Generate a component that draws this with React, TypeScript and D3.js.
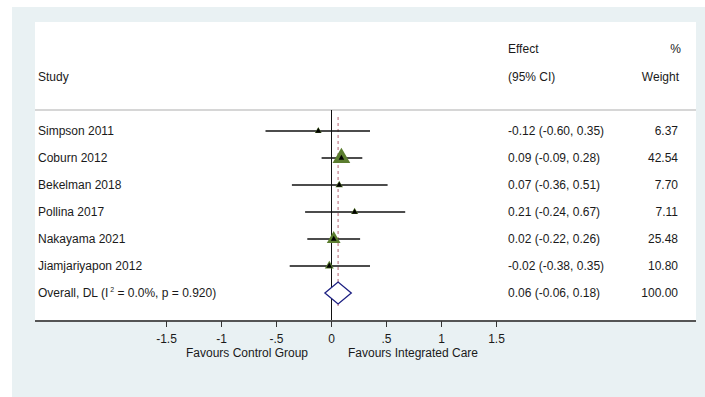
import React, { useEffect, useRef } from "react";
import * as d3 from "d3";

// study level data
const studies = ["Simpson 2011", "Coburn 2012", "Bekelman 2018", "Pollina 2017", "Nakayama 2021", "Jiamjariyapon 2012"];
const effects = [-0.12, 0.09, 0.07, 0.21, 0.02, -0.02];
const lowers = [-0.6, -0.09, -0.36, -0.24, -0.22, -0.38];
const uppers = [0.35, 0.28, 0.51, 0.67, 0.26, 0.35];
const weights = [6.37, 42.54, 7.7, 7.11, 25.48, 10.8];

// pooled estimate
const overall = { effect: 0.06, lower: -0.06, upper: 0.18, weight: 100.0 };

const xTicks = [-1.5, -1, -0.5, 0, 0.5, 1, 1.5];
// stata style labels: "-.5", ".5", plain hyphen
const tickLabel = (v: number) => (v === 0 ? "0" : String(v).replace("0.", "."));

const W = 705;
const H = 397;
const FONT = "'Liberation Sans', Arial, Helvetica, sans-serif";

export default function App() {
  const ref = useRef<SVGSVGElement>(null);

  useEffect(() => {
    const svg = d3.select(ref.current);
    svg.selectAll("*").remove();

    const x = d3.scaleLinear().domain([-1.5, 1.5]).range([166.5, 496.5]);
    const y = d3.scaleLinear().domain([0, studies.length]).range([131, 293]);
    const axisY = 321;

    // backgrounds
    svg.append("rect").attr("x", 12).attr("y", 7).attr("width", W - 12).attr("height", H - 7).attr("fill", "#e9f1f3");
    svg.append("rect").attr("x", 35).attr("y", 22).attr("width", 661).attr("height", axisY - 22).attr("fill", "#fff");

    const txt = (g: any, tx: number, ty: number, s: string, anchor = "start") =>
      g.append("text")
        .attr("x", tx)
        .attr("y", ty)
        .attr("dy", "0.35em")
        .attr("text-anchor", anchor)
        .attr("font-size", 12)
        .attr("fill", "#1a1a1a")
        .text(s);

    const g = svg.append("g").attr("font-family", FONT);

    // headers
    txt(g, 38, 77, "Study");
    txt(g, 508, 49, "Effect");
    txt(g, 508, 77, "(95% CI)");
    txt(g, 681, 49, "%", "end");
    txt(g, 679, 77, "Weight", "end");

    g.append("line")
      .attr("x1", 35).attr("x2", 696)
      .attr("y1", 110).attr("y2", 110)
      .attr("stroke", "#c9c9c9").attr("stroke-width", 1.5);

    // null line
    g.append("line")
      .attr("x1", x(0)).attr("x2", x(0))
      .attr("y1", 110).attr("y2", axisY)
      .attr("stroke", "#111").attr("stroke-width", 1);

    // overall effect dashed line
    g.append("line")
      .attr("x1", x(overall.effect)).attr("x2", x(overall.effect))
      .attr("y1", 117).attr("y2", 306)
      .attr("stroke", "#c07f8a").attr("stroke-width", 1.2)
      .attr("stroke-dasharray", "3,3");

    const fmt = (v: number) => v.toFixed(2);

    studies.forEach((s, i) => {
      const cy = y(i);
      txt(g, 38, cy, s);
      txt(g, 508, cy, `${fmt(effects[i])} (${fmt(lowers[i])}, ${fmt(uppers[i])})`);
      txt(g, 678, cy, fmt(weights[i]), "end");

      g.append("line")
        .attr("x1", x(lowers[i])).attr("x2", x(uppers[i]))
        .attr("y1", cy).attr("y2", cy)
        .attr("stroke", "#111").attr("stroke-width", 1.5);

      // weight marker: triangle, area ~ weight
      g.append("path")
        .attr("d", d3.symbol().type(d3.symbolTriangle).size(weights[i] * 3.2)())
        .attr("transform", `translate(${x(effects[i])},${cy})`)
        .attr("fill", "#5b7d2f");

      g.append("path")
        .attr("d", d3.symbol().type(d3.symbolTriangle).size(14)())
        .attr("transform", `translate(${x(effects[i])},${cy})`)
        .attr("fill", "#000");
    });

    // overall row
    const oy = y(studies.length);
    const ot = g.append("text")
      .attr("x", 38).attr("y", oy).attr("dy", "0.35em")
      .attr("font-size", 12).attr("fill", "#1a1a1a");
    ot.append("tspan").text("Overall, DL (I");
    ot.append("tspan").attr("font-size", 7).attr("dy", -5).text(" 2");
    ot.append("tspan").attr("dy", 5).text(" = 0.0%, p = 0.920)");
    txt(g, 508, oy, `${fmt(overall.effect)} (${fmt(overall.lower)}, ${fmt(overall.upper)})`);
    txt(g, 678, oy, fmt(overall.weight), "end");

    const dh = 11;
    g.append("path")
      .attr("d", d3.line()([
        [x(overall.lower), oy],
        [x(overall.effect), oy - dh],
        [x(overall.upper), oy],
        [x(overall.effect), oy + dh],
      ]) + "Z")
      .attr("fill", "#fff")
      .attr("stroke", "#1c1f82")
      .attr("stroke-width", 1.3);

    // x axis
    const axis = g.append("g").attr("transform", `translate(0,${axisY})`);
    axis.append("line")
      .attr("x1", 35).attr("x2", 696)
      .attr("stroke", "#555").attr("stroke-width", 2);
    axis.selectAll(".tick")
      .data(xTicks)
      .enter()
      .append("line")
      .attr("x1", d => x(d)).attr("x2", d => x(d))
      .attr("y1", 0).attr("y2", 6)
      .attr("stroke", "#333").attr("stroke-width", 1);
    axis.selectAll(".lbl")
      .data(xTicks)
      .enter()
      .append("text")
      .attr("x", d => x(d))
      .attr("y", 18)
      .attr("dy", "0.35em")
      .attr("text-anchor", "middle")
      .attr("font-size", 12)
      .attr("fill", "#1a1a1a")
      .text(d => tickLabel(d));

    txt(g, 247, 353, "Favours Control Group", "middle");
    txt(g, 413, 353, "Favours Integrated Care", "middle");
  }, []);

  return (
    <svg ref={ref} width={W} height={H} style={{ position: "absolute", left: 0, top: 0, background: "#fff" }} />
  );
}
